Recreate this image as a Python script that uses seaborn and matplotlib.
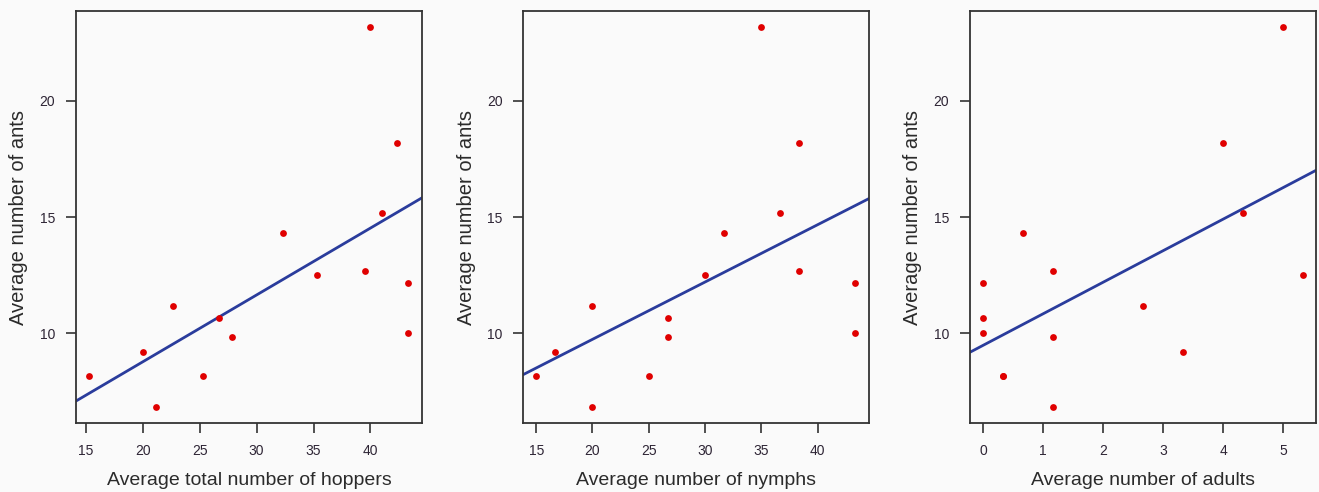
import numpy as np
import pandas as pd
import matplotlib
matplotlib.use("Agg")
import matplotlib.pyplot as plt
import seaborn as sns

# values (one row per site)
ants = [8.17, 8.17, 9.17, 6.83, 11.17, 10.67, 9.83, 14.33, 12.5, 12.67,
        23.17, 15.17, 18.17, 12.17, 10.0]
hoppers = [15.33, 25.33, 20.0, 21.17, 22.67, 26.67, 27.83, 32.33, 35.33, 39.5,
           40.0, 41.0, 42.33, 43.33, 43.33]
nymphs = [15.0, 25.0, 16.67, 20.0, 20.0, 26.67, 26.67, 31.67, 30.0, 38.33,
          35.0, 36.67, 38.33, 43.33, 43.33]
adults = [0.33, 0.33, 3.33, 1.17, 2.67, 0.0, 1.17, 0.67, 5.33, 1.17,
          5.0, 4.33, 4.0, 0.0, 0.0]

df = pd.DataFrame({"ants": ants, "hoppers": hoppers,
                   "nymphs": nymphs, "adults": adults})

panels = [
    ("hoppers", "Average total number of hoppers", (14.15, 44.54), [15, 20, 25, 30, 35, 40]),
    ("nymphs", "Average number of nymphs", (13.85, 44.61), [15, 20, 25, 30, 35, 40]),
    ("adults", "Average number of adults", (-0.217, 5.55), [0, 1, 2, 3, 4, 5]),
]

sns.set_style("white")
plt.rcParams["font.family"] = ["Liberation Sans", "DejaVu Sans"]

fig = plt.figure(figsize=(13.19, 4.92), dpi=100)
fig.patch.set_facecolor("#fafafa")

lefts = [0.0576, 0.3967, 0.7354]
for left, (col, label, xlim, xticks) in zip(lefts, panels):
    ax = fig.add_axes([left, 0.1402, 0.2625, 0.8374])
    ax.set_facecolor("#fafafa")
    ax.set_xlim(xlim)
    ax.set_ylim(6.13, 23.87)
    sns.regplot(data=df, x=col, y="ants", ax=ax, ci=None, truncate=False,
                scatter_kws=dict(color="#e00000", s=24, linewidths=0, alpha=1, zorder=3),
                line_kws=dict(color="#2a3c9c", lw=2.0, zorder=2))
    ax.set_xlim(xlim)
    ax.set_ylim(6.13, 23.87)
    ax.set_xticks(xticks)
    ax.set_yticks([10, 15, 20])
    ax.tick_params(axis="both", which="both", bottom=True, left=True,
                   length=7, width=1.2, color="#333333",
                   labelsize=10, labelcolor="#2e2535", pad=8)
    for s in ax.spines.values():
        s.set_color("#333333")
        s.set_linewidth(1.3)
    ax.set_xlabel(label, fontsize=14, color="#2b2b2b", labelpad=10)
    ax.set_ylabel("Average number of ants", fontsize=14.5, color="#2b2b2b", labelpad=8)

fig.savefig("out.png", dpi=100, facecolor=fig.get_facecolor())
